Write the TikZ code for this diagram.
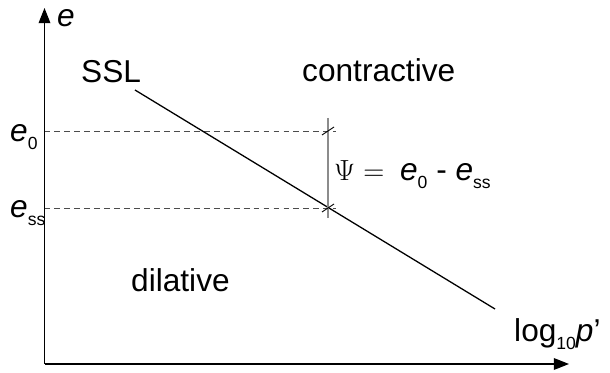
\documentclass[tikz,border=0pt]{standalone}
\usepackage{fontspec}
\setmainfont{Liberation Sans}
\usetikzlibrary{arrows.meta}
\newcommand{\lowsub}[1]{\raisebox{-0.45ex}{\fontsize{15}{15}\selectfont #1}}
\begin{document}
\begin{tikzpicture}[
    x={(0.03cm,0cm)}, y={(0cm,-0.03cm)},
    axis/.style={line width=1.1pt, -{Triangle[length=13pt,width=10pt]}},
    ssl/.style={line width=1.1pt},
    guide/.style={dashed, dash pattern=on 5pt off 3.5pt, gray!60!black, line width=0.8pt},
    psiline/.style={gray!90, line width=1pt},
    tick/.style={line width=0.8pt},
    lab/.style={inner sep=0pt, anchor=base west, font=\fontsize{27}{32}\selectfont}]
  \useasboundingbox (0,0) rectangle (610,373);
  % axes
  \coordinate (o)    at (44.5,364);
  \coordinate (ytip) at (44.5,8);
  \coordinate (xtip) at (569,364);
  \draw[axis] (o) -- (ytip);
  \draw[axis] (o) -- (xtip);
  % guide lines
  \coordinate (e0l)  at (44.5,131);
  \coordinate (e0r)  at (336,131);
  \coordinate (essl) at (44.5,208);
  \coordinate (essr) at (336,208);
  \draw[guide] (e0l) -- (e0r);
  \draw[guide] (essl) -- (essr);
  % steady state line
  \coordinate (sslA) at (135,90);
  \coordinate (sslB) at (495,309);
  \draw[ssl] (sslA) -- (sslB);
  % state parameter
  \coordinate (psitop) at (328,118);
  \coordinate (psibot) at (328,218);
  \draw[psiline] (psitop) -- (psibot);
  \draw[tick] (322,135) -- (334,127);
  \draw[tick] (322,212) -- (334,204);
  % labels
  \node[lab] (ylab) at (57,27) {\textit{e}};
  \node[lab] (xlab) at (514,342) {log\lowsub{10}\textit{p}'};
  \node[lab] (e0)   at (10,142) {\textit{e}\lowsub{0}};
  \node[lab] (ess)  at (10,218) {\textit{e}\lowsub{ss}};
  \node[lab] (ssl)  at (81,83)  {SSL};
  \node[lab] (con)  at (302,82) {contractive};
  \node[lab] (dil)  at (131,292) {dilative};
  \node[lab] (psi)  at (334,181) {{\fontsize{31}{32}\selectfont$\Psi =$}\hspace{0.5em}\textit{e}\lowsub{0} - \textit{e}\lowsub{ss}};
\end{tikzpicture}
\end{document}
